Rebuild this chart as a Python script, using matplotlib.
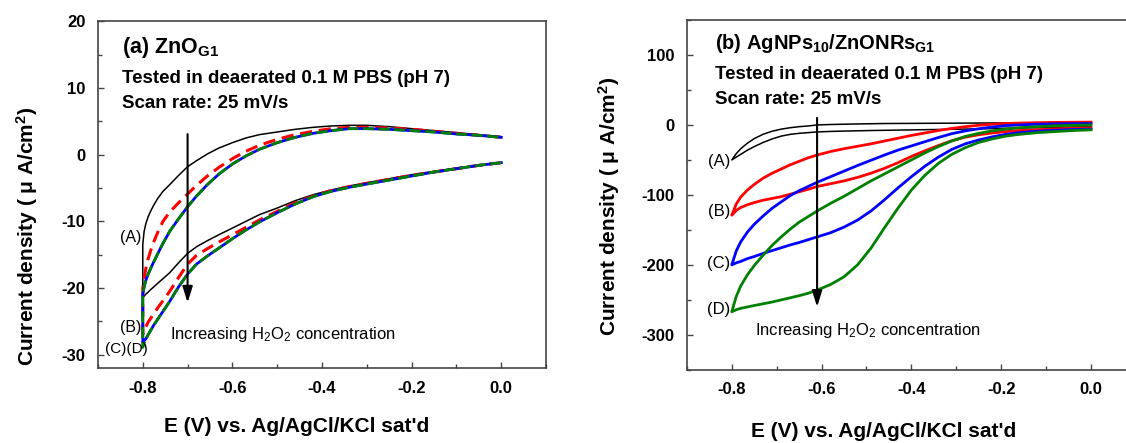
import matplotlib.pyplot as plt
from matplotlib.ticker import MultipleLocator

plt.rcParams['font.family'] = ['Liberation Sans', 'DejaVu Sans']
plt.rcParams['font.weight'] = 'bold'
plt.rcParams['axes.unicode_minus'] = False
plt.rcParams['mathtext.fontset'] = 'custom'
plt.rcParams['mathtext.rm'] = 'Liberation Sans'
plt.rcParams['mathtext.it'] = 'Liberation Sans:italic'
plt.rcParams['mathtext.bf'] = 'Liberation Sans:bold'
plt.rcParams['mathtext.default'] = 'regular'

###################################################################################################
# (a) ZnO_G1 - potential grid (V) and current density (uA/cm2) on both sweeps
###################################################################################################

e_zno = [-0.8, -0.8, -0.797, -0.793, -0.788, -0.782, -0.775, -0.767, -0.755, -0.74,
         -0.72, -0.70, -0.68, -0.656, -0.63, -0.60, -0.57, -0.54, -0.50, -0.46,
         -0.42, -0.38, -0.34, -0.30, -0.25, -0.20, -0.15, -0.10, -0.05, 0.0]

# cathodic sweep (0 -> -0.8) and return sweep (-0.8 -> 0)
zno_a_fwd = [-21.4, -21.4, -21.2, -20.9, -20.6, -20.2, -19.8, -19.3, -18.6, -17.7,
             -16.2, -14.8, -13.8, -12.9, -12.0, -11.0, -10.0, -9.0, -8.0, -6.9,
             -6.0, -5.3, -4.7, -4.2, -3.6, -3.0, -2.5, -2.0, -1.6, -1.2]
zno_a_rev = [-21.4, -13.5, -11.5, -10.3, -9.3, -8.4, -7.5, -6.6, -5.5, -4.5,
             -3.1, -1.8, -0.9, 0.1, 1.0, 1.8, 2.5, 3.0, 3.4, 3.8,
             4.1, 4.3, 4.4, 4.4, 4.2, 3.9, 3.6, 3.3, 3.0, 2.7]
zno_b_fwd = [-26.9, -26.9, -26.3, -25.8, -25.1, -24.5, -23.8, -23.0, -21.9, -20.5,
             -18.4, -16.4, -15.1, -14.1, -13.1, -12.0, -10.9, -9.8, -8.5, -7.2,
             -6.2, -5.4, -4.8, -4.3, -3.7, -3.1, -2.6, -2.1, -1.6, -1.2]
zno_b_rev = [-26.9, -20.0, -18.5, -17.0, -15.6, -14.3, -13.0, -11.7, -10.0, -8.6,
             -7.2, -5.9, -4.6, -3.2, -1.9, -0.6, 0.5, 1.4, 2.3, 3.0,
             3.5, 3.9, 4.1, 4.1, 4.0, 3.8, 3.5, 3.2, 2.9, 2.6]
zno_c_fwd = [-28.2, -28.2, -27.9, -27.6, -27.0, -26.3, -25.5, -24.7, -23.5, -22.0,
             -19.8, -17.9, -16.4, -15.2, -14.0, -12.6, -11.3, -10.1, -8.7, -7.4,
             -6.3, -5.5, -4.9, -4.4, -3.8, -3.2, -2.6, -2.1, -1.6, -1.2]
zno_c_rev = [-28.2, -21.0, -19.8, -18.8, -17.9, -17.0, -16.0, -14.9, -13.3, -11.5,
             -9.6, -7.8, -6.2, -4.5, -2.9, -1.4, -0.2, 0.8, 1.8, 2.6,
             3.2, 3.6, 3.9, 3.9, 3.8, 3.6, 3.4, 3.1, 2.9, 2.6]
zno_d_fwd = [-28.9, -28.9, -28.3, -27.7, -27.0, -26.3, -25.5, -24.7, -23.5, -22.0,
             -19.8, -17.9, -16.4, -15.2, -14.0, -12.6, -11.3, -10.1, -8.7, -7.4,
             -6.3, -5.5, -4.9, -4.4, -3.8, -3.2, -2.6, -2.1, -1.6, -1.2]
zno_d_rev = [-28.9, -21.0, -19.8, -18.8, -17.9, -17.0, -16.0, -14.9, -13.3, -11.5,
             -9.6, -7.8, -6.2, -4.5, -2.9, -1.4, -0.2, 0.8, 1.8, 2.6,
             3.2, 3.6, 3.9, 3.9, 3.8, 3.6, 3.4, 3.1, 2.9, 2.6]

###################################################################################################
# (b) AgNPs10/ZnONRs_G1
###################################################################################################

e_ag = [-0.8, -0.79, -0.78, -0.765, -0.75, -0.73, -0.71, -0.69, -0.67, -0.65,
        -0.63, -0.61, -0.58, -0.55, -0.52, -0.49, -0.46, -0.43, -0.40, -0.37,
        -0.34, -0.31, -0.28, -0.25, -0.22, -0.19, -0.16, -0.12, -0.08, -0.04, 0.0]

ag_a_fwd = [-50, -46, -42, -36, -31, -25, -20, -16, -13.5, -12,
            -11, -10, -9.3, -8.8, -8.4, -8.0, -7.7, -7.4, -7.1, -6.8,
            -6.5, -6.2, -5.9, -5.6, -5.2, -4.8, -4.4, -3.9, -3.4, -3.0, -2.5]
ag_a_rev = [-50, -41, -34, -26, -19.5, -13.3, -9, -6, -4, -2.5,
            -1.5, 0, 0.6, 1.0, 1.4, 1.7, 2.0, 2.1, 2.2, 2.3,
            2.4, 2.5, 2.6, 2.7, 2.8, 2.9, 3.0, 3.0, 3.0, 3.0, 3.0]
ag_b_fwd = [-129, -122, -118, -114, -111, -107.5, -105, -102.5, -99, -95.5,
            -92, -88, -84, -80, -75, -69, -62, -54, -45, -37,
            -29.5, -22.5, -17.5, -14, -11.5, -9.5, -8, -6.8, -5.6, -4.8, -4]
ag_b_rev = [-129, -113, -103, -93, -85, -76, -69, -63, -57, -52,
            -47, -43, -38, -34, -30.5, -27, -23, -19, -15, -11.5,
            -8, -5, -2.5, -0.5, 1, 2, 2.6, 3.2, 3.6, 3.8, 4]
ag_c_fwd = [-200, -197, -195, -191, -188, -183.5, -179.5, -175.5, -171.5, -168,
            -164, -160, -154, -146, -136, -123, -107, -90, -74, -59,
            -46, -35, -27, -21.5, -17, -13.5, -11, -9, -7.5, -6.5, -6]
ag_c_rev = [-200, -180, -167, -153, -142, -130, -119, -110, -101, -94,
            -88, -82, -74, -66, -58, -50.5, -43, -36, -30, -24,
            -18, -12.5, -8.5, -5.5, -3, -1, 0, 1, 1.5, 1.8, 2]
ag_d_fwd = [-267, -264, -262, -260, -258, -255.5, -253, -250, -247, -244,
            -240.5, -236, -228, -217, -200, -176, -147, -119, -93, -72,
            -55, -42, -32.5, -25, -20, -16, -13.5, -11, -9.5, -8, -7]
ag_d_rev = [-267, -245, -230, -214, -201, -186, -172, -160, -149, -139,
            -131, -123, -112, -102, -91, -80, -70, -60, -50, -40,
            -31, -23, -16.5, -12, -8.5, -6, -4, -2.5, -1.2, -0.5, 0]

curve_labels = ['(A)', '(B)', '(C)', '(D)']


def cv_loop(e, fwd, rev):
    """Join the cathodic and return sweeps into one closed trace."""
    return e[::-1] + e, fwd[::-1] + rev


def style_axes(ax, xmajor, ymajor, yminor):
    ax.xaxis.set_major_locator(MultipleLocator(xmajor))
    ax.xaxis.set_minor_locator(MultipleLocator(xmajor / 2))
    ax.yaxis.set_major_locator(MultipleLocator(ymajor))
    ax.yaxis.set_minor_locator(MultipleLocator(yminor))
    ax.tick_params(which='both', direction='in', color='#444444', width=1.0,
                   labelsize=12, pad=9, top=False, right=False)
    ax.tick_params(which='major', length=4.5)
    ax.tick_params(which='minor', length=3)
    ax.xaxis.set_major_formatter(plt.FuncFormatter(lambda v, p: '%.1f' % v))
    for sp in ax.spines.values():
        sp.set_color('#444444')
        sp.set_linewidth(1.2)


fig = plt.figure(figsize=(11.26, 4.43), dpi=100)

###################################################################################################
# Panel (a)

ax1 = fig.add_axes([0.087, 0.169, 0.398, 0.783])

ax1.plot(*cv_loop(e_zno, zno_a_fwd, zno_a_rev), color='black', lw=1.1)
ax1.plot(*cv_loop(e_zno, zno_b_fwd, zno_b_rev), color='red', lw=2.2, dashes=(4, 2.2))
ax1.plot(*cv_loop(e_zno, zno_c_fwd, zno_c_rev), color='blue', lw=2.0)
ax1.plot(*cv_loop(e_zno, zno_d_fwd, zno_d_rev), color='green', lw=2.0, dashes=(4, 1.6))

ax1.set_xlim(-0.9, 0.1)
ax1.set_ylim(-32, 20)
style_axes(ax1, 0.2, 10, 5)

ax1.text(0.054, 0.925, '(a) ZnO$_{G1}$', transform=ax1.transAxes, fontsize=15.5,
         va='center')
ax1.text(0.054, 0.836, 'Tested in deaerated 0.1 M PBS (pH 7)', transform=ax1.transAxes,
         fontsize=13.5, va='center')
ax1.text(0.054, 0.764, 'Scan rate: 25 mV/s', transform=ax1.transAxes,
         fontsize=13.5, va='center')

ax1.annotate('', xy=(-0.70, -22.6), xytext=(-0.70, 3.5),
             arrowprops=dict(arrowstyle='-|>,head_length=0.8,head_width=0.25',
                             color='black', lw=1.5, mutation_scale=12))
ax1.text(-0.74, -26.9, 'Increasing H$_2$O$_2$ concentration', fontsize=12,
         fontweight='normal', va='center')

for lbl, y in zip(curve_labels[:2], [-12.4, -25.9]):
    ax1.text(-0.803, y, lbl, fontsize=11.5, fontweight='normal', ha='right', va='center')
ax1.text(-0.836, -29.1, '(C)(D)', fontsize=11, fontweight='normal', ha='center', va='center')

ax1.set_xlabel("E (V) vs. Ag/AgCl/KCl sat'd", fontsize=15, fontweight='bold')
ax1.xaxis.set_label_coords(0.444, -0.141)
ax1.set_ylabel('Current density ( μ A/cm$^{2}$)', fontsize=15, fontweight='bold')
ax1.yaxis.set_label_coords(-0.13, 0.38)

###################################################################################################
# Panel (b)

ax2 = fig.add_axes([0.610, 0.165, 0.3988, 0.790])

ag_colors = ['black', 'red', 'blue', 'green']
ag_widths = [1.1, 2.0, 2.0, 2.0]
ag_sweeps = [(ag_a_fwd, ag_a_rev), (ag_b_fwd, ag_b_rev),
             (ag_c_fwd, ag_c_rev), (ag_d_fwd, ag_d_rev)]
for (fwd, rev), col, lw in zip(ag_sweeps, ag_colors, ag_widths):
    ax2.plot(*cv_loop(e_ag, fwd, rev), color=col, lw=lw)

ax2.set_xlim(-0.9, 0.1)
ax2.set_ylim(-350, 150)
style_axes(ax2, 0.2, 100, 50)

ax2.text(0.062, 0.934, '(b) AgNPs$_{10}$/ZnONRs$_{G1}$', transform=ax2.transAxes,
         fontsize=14.5, va='center')
ax2.text(0.062, 0.843, 'Tested in deaerated 0.1 M PBS (pH 7)', transform=ax2.transAxes,
         fontsize=13.5, va='center')
ax2.text(0.062, 0.774, 'Scan rate: 25 mV/s', transform=ax2.transAxes,
         fontsize=13.5, va='center')

ax2.annotate('', xy=(-0.61, -264), xytext=(-0.61, 14),
             arrowprops=dict(arrowstyle='-|>,head_length=0.8,head_width=0.25',
                             color='black', lw=1.5, mutation_scale=12))
ax2.text(-0.749, -293, 'Increasing H$_2$O$_2$ concentration', fontsize=12,
         fontweight='normal', va='center')

for lbl, y in zip(curve_labels, [-52, -124, -198, -264]):
    ax2.text(-0.803, y, lbl, fontsize=12, fontweight='normal', ha='right', va='center')

ax2.set_xlabel("E (V) vs. Ag/AgCl/KCl sat'd", fontsize=15, fontweight='bold')
ax2.xaxis.set_label_coords(0.439, -0.149)
ax2.set_ylabel('Current density ( μ A/cm$^{2}$)', fontsize=15, fontweight='bold')
ax2.yaxis.set_label_coords(-0.145, 0.466)

fig.savefig('out.png', dpi=100)
